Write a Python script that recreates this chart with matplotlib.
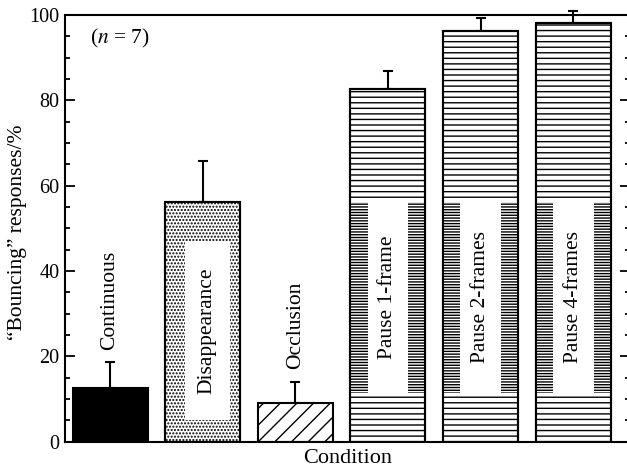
import matplotlib
matplotlib.use("Agg")
import matplotlib.pyplot as plt
from matplotlib.patches import Rectangle

plt.rcParams['font.family'] = ['Liberation Serif', 'DejaVu Serif']
plt.rcParams['mathtext.fontset'] = 'stix'
plt.rcParams['hatch.color'] = 'black'
plt.rcParams['hatch.linewidth'] = 1.0

# data
conditions = ['Continuous', 'Disappearance', 'Occlusion',
              'Pause 1-frame', 'Pause 2-frames', 'Pause 4-frames']
bouncing = [12.7, 56.2, 9.1, 82.6, 96.2, 98.1]
errors = [5.9, 9.6, 5.0, 4.3, 3.0, 2.8]
y_ticks = [0, 20, 40, 60, 80, 100]

# styling per bar
hatches = [None, '.....', '//', '---', '---', '---']
faces = ['black', 'white', 'white', 'white', 'white', 'white']
label_inside = [False, True, False, True, True, True]

fig = plt.figure(figsize=(6.27, 4.72), dpi=100)
ax = fig.add_axes([0.1037, 0.0642, 0.901, 0.904])

x = list(range(len(conditions)))
w = 0.81
bars = ax.bar(x, bouncing, width=w, color=faces, edgecolor='black',
              linewidth=1.5, zorder=2)
for b, h in zip(bars, hatches):
    if h:
        b.set_hatch(h)

eb = ax.errorbar(x, bouncing, yerr=[[0] * len(errors), errors], fmt='none',
                 ecolor='black', elinewidth=1.5, capsize=3.8, capthick=1.5,
                 zorder=1)
for artist in eb.lines[1] + eb.lines[2]:
    artist.set_clip_on(False)

for i, name in enumerate(conditions):
    top = bouncing[i] + errors[i]
    if not label_inside[i]:
        ax.text(i, top + 3, name, rotation=90, ha='center', va='bottom',
                fontsize=15.5)
        continue
    if name.startswith('Pause'):
        lo, hi = 11.4, 56.2
        left, right = i - 0.22, i + 0.22
        # denser hatching beside the label box
        band = Rectangle((i - w / 2, lo), w, hi - lo, facecolor='white',
                         edgecolor='black', linewidth=0, hatch='------',
                         zorder=3)
        ax.add_patch(band)
    else:
        lo, hi = 5.1, 46.8
        left, right = i - 0.19, i + 0.29
    box = Rectangle((left, lo), right - left, hi - lo, facecolor='white',
                    edgecolor='none', zorder=4)
    ax.add_patch(box)
    outline = Rectangle((i - w / 2, 0), w, bouncing[i], fill=False,
                        edgecolor='black', linewidth=1.5, zorder=5)
    ax.add_patch(outline)
    ax.text((left + right) / 2, (lo + hi) / 2, name, rotation=90,
            ha='center', va='center', fontsize=15.5, zorder=6)

ax.text(0.045, 0.945, '($n$ = 7)', transform=ax.transAxes, fontsize=15.5,
        ha='left', va='center')

ax.set_xlim(-0.487, 5.613)
ax.set_ylim(0, 100)
ax.set_xticks([])
ax.set_yticks(y_ticks)
ax.set_yticks(range(0, 101, 5), minor=True)
ax.tick_params(axis='y', which='major', direction='in', length=7, width=1.3,
               right=True, labelsize=14.5, pad=4)
ax.tick_params(axis='y', which='minor', direction='in', length=3.5,
               width=1.3, right=True)
for s in ax.spines.values():
    s.set_linewidth(1.5)

ax.set_xlabel('Condition', fontsize=16, labelpad=5)
ax.set_ylabel('\u201cBouncing\u201d responses/%', fontsize=15.5)
ax.yaxis.set_label_coords(-0.067, 0.49)

fig.savefig('out.png', dpi=100)
